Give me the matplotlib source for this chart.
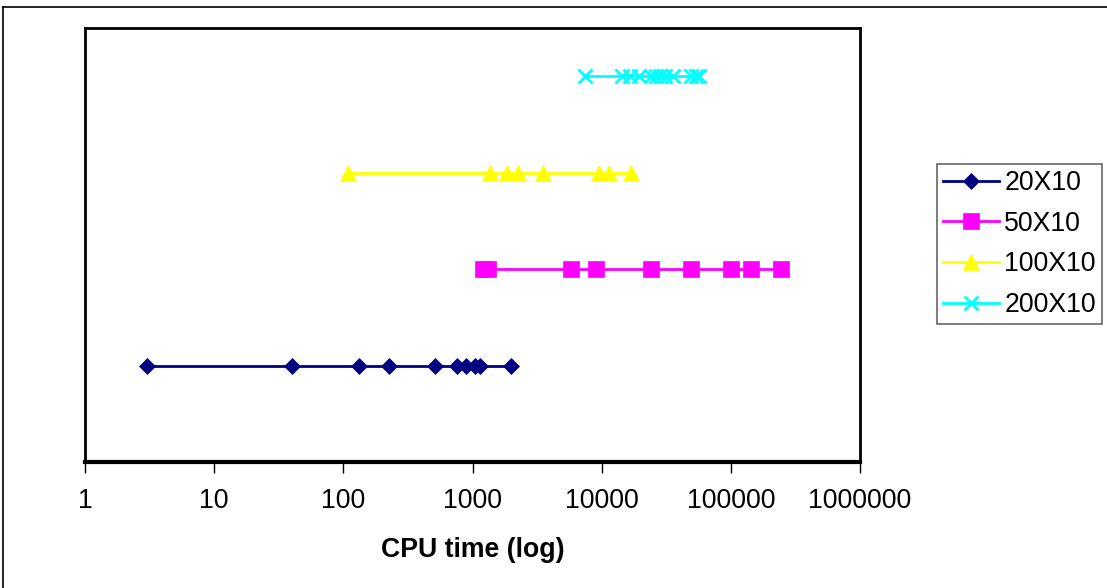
import matplotlib

matplotlib.use("Agg")
import matplotlib.pyplot as plt
from matplotlib.lines import Line2D

plt.rcParams["font.family"] = ["Liberation Sans", "DejaVu Sans"]

# CPU times, one row per problem size
labels = ["20X10", "50X10", "100X10", "200X10"]
levels = [1, 2, 3, 4]
cpu_20x10 = [3, 40, 133, 224, 509, 754, 891, 1045, 1150, 2000]
cpu_50x10 = [1200, 1320, 5800, 9000, 24200, 49000, 100000, 144000, 243000]
cpu_100x10 = [109, 1365, 1840, 2240, 3530, 9600, 11300, 16800]
cpu_200x10 = [7400, 14300, 16500, 19500, 24000, 26500, 28500, 31000, 35500, 49000, 54000, 57000]
tick_vals = [1, 10, 100, 1000, 10000, 100000, 1000000]

series = [cpu_20x10, cpu_50x10, cpu_100x10, cpu_200x10]
colors = ["#000080", "#FF00FF", "#FFFF00", "#00FFFF"]
markers = ["D", "s", "^", "x"]
msizes = [8, 11, 11, 10]
fsize = 19.2

fig = plt.figure(figsize=(11.07, 5.88), dpi=100)
ax = fig.add_axes([85 / 1107, 1 - 462 / 588, 775 / 1107, 434 / 588])

for vals, lvl, c, m, ms, lab in zip(series, levels, colors, markers, msizes, labels):
    ax.plot(vals, [lvl] * len(vals), color=c, lw=2, marker=m, ms=ms,
            mfc=c, mec=c, mew=2 if m == "x" else 0.5, label=lab)

ax.set_xscale("log")
ax.set_xlim(1, 1000000)
ax.set_ylim(0, 4.5)
ax.set_xticks(tick_vals)
ax.set_xticklabels([str(v) for v in tick_vals])
ax.xaxis.set_minor_locator(matplotlib.ticker.NullLocator())
ax.tick_params(axis="x", direction="out", length=8, width=1, labelsize=fsize, pad=11)
ax.set_yticks([])
for s in ax.spines.values():
    s.set_linewidth(2)
ax.spines["bottom"].set_linewidth(3)
ax.set_xlabel("CPU time (log)", fontsize=fsize, fontweight="bold", labelpad=16)

leg = fig.legend(loc="center left", bbox_to_anchor=(937 / 1107, 1 - 244 / 588),
                 fontsize=fsize, frameon=True, fancybox=False, handlelength=2.1,
                 handletextpad=0.18, labelspacing=0.55, borderpad=0.24, borderaxespad=0)
leg.get_frame().set_edgecolor("#404040")
leg.get_frame().set_linewidth(1.2)

# outer chart border (left and top visible)
fig.add_artist(Line2D([3 / 1107, 3 / 1107], [0, 1 - 7 / 588], color="black", lw=1.2))
fig.add_artist(Line2D([3 / 1107, 1], [1 - 7 / 588, 1 - 7 / 588], color="black", lw=1.2))

fig.savefig("out.png", dpi=100)
